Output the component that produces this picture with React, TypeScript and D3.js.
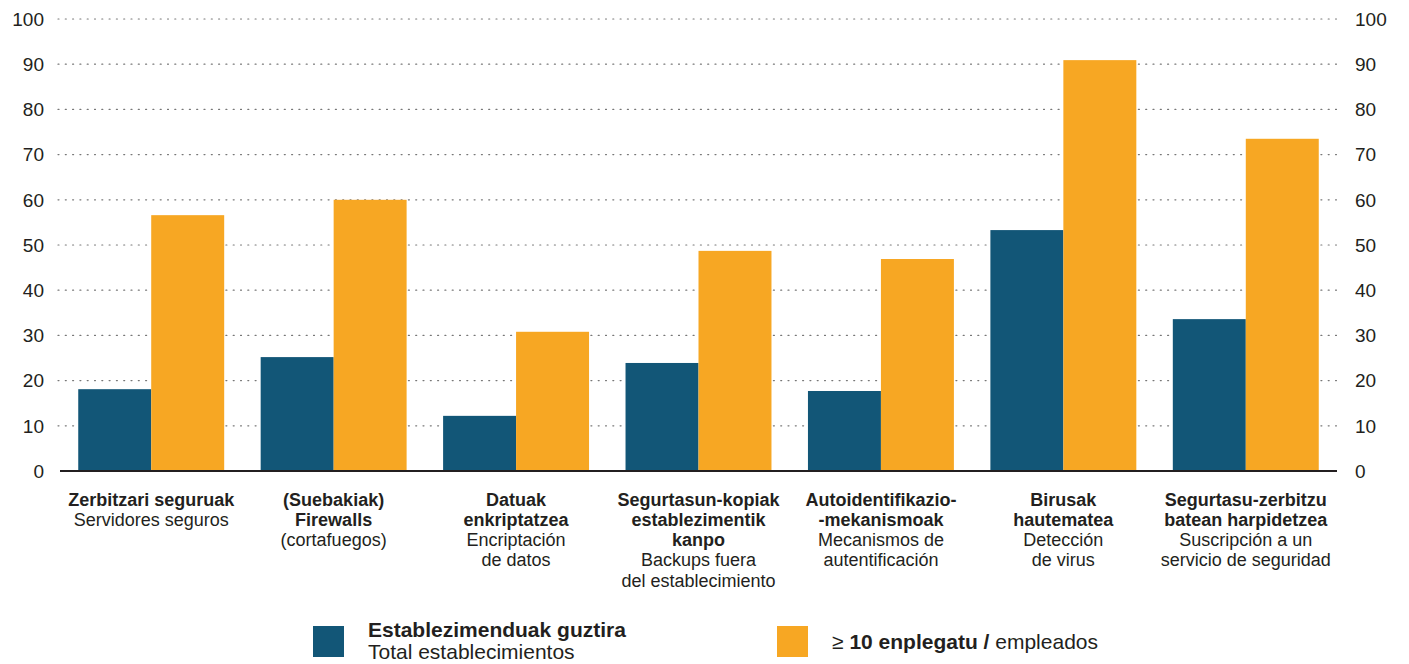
import React from "react";
import * as d3 from "d3";

const categoriesBold: string[][] = [
  ["Zerbitzari seguruak"],
  ["(Suebakiak)", "Firewalls"],
  ["Datuak", "enkriptatzea"],
  ["Segurtasun-kopiak", "establezimentik", "kanpo"],
  ["Autoidentifikazio-", "-mekanismoak"],
  ["Birusak", "hautematea"],
  ["Segurtasu-zerbitzu", "batean harpidetzea"],
];
const categoriesRegular: string[][] = [
  ["Servidores seguros"],
  ["(cortafuegos)"],
  ["Encriptación", "de datos"],
  ["Backups fuera", "del establecimiento"],
  ["Mecanismos de", "autentificación"],
  ["Detección", "de virus"],
  ["Suscripción a un", "servicio de seguridad"],
];
const totalValues = [18.1, 25.2, 12.2, 23.9, 17.7, 53.3, 33.6];
const tenPlusValues = [56.6, 60.0, 30.8, 48.7, 46.9, 90.9, 73.5];
const yTicks = [0, 10, 20, 30, 40, 50, 60, 70, 80, 90, 100];

const BLUE = "#125677";
const ORANGE = "#F7A723";

export default function App() {
  const W = 1409, H = 664;
  const left = 60, right = 1337, top = 19, bottom = 471;
  const x = d3.scaleBand<number>().domain(d3.range(7)).range([left, right]).paddingInner(0.2).paddingOuter(0.1);
  const y = d3.scaleLinear().domain([0, 100]).range([bottom, top]);
  const bw = x.bandwidth() / 2;
  const font = "'Liberation Sans', Arial, sans-serif";
  return (
    <svg width={W} height={H} style={{ position: "absolute", left: 0, top: 0, background: "#fff" }} fontFamily={font}>
      {yTicks.map((t) => (
        <g key={t}>
          {t > 0 && (
            <line x1={58} x2={1340} y1={y(t)} y2={y(t)} stroke="#777" strokeWidth={1.2} strokeDasharray="1 6.3" strokeLinecap="round" />
          )}
          <text x={44} y={y(t)} dy="0.36em" textAnchor="end" fontSize={19} fill="#231f20">{t}</text>
          <text x={1355} y={y(t)} dy="0.36em" textAnchor="start" fontSize={19} fill="#231f20">{t}</text>
        </g>
      ))}
      {totalValues.map((v, i) => (
        <rect key={"b" + i} x={x(i)!} y={y(v)} width={bw} height={y(0) - y(v)} fill={BLUE} />
      ))}
      {tenPlusValues.map((v, i) => (
        <rect key={"o" + i} x={x(i)! + bw} y={y(v)} width={bw} height={y(0) - y(v)} fill={ORANGE} />
      ))}
      <line x1={left} x2={right} y1={bottom} y2={bottom} stroke="#231f20" strokeWidth={2} />
      {categoriesBold.map((lines, i) => {
        const cx = x(i)! + x.bandwidth() / 2;
        const all = [
          ...lines.map((l) => ({ t: l, b: true })),
          ...categoriesRegular[i].map((l) => ({ t: l, b: false })),
        ];
        return (
          <text key={"c" + i} x={cx} textAnchor="middle" fontSize={18} fill="#231f20">
            {all.map((l, j) => (
              <tspan key={j} x={cx} y={505.5 + j * 20.3} fontWeight={l.b ? "bold" : "normal"} fontSize={l.b ? 18 : 18}>{l.t}</tspan>
            ))}
          </text>
        );
      })}
      <rect x={313} y={626} width={31} height={31} fill={BLUE} />
      <text x={368} y={637} fontSize={21} fontWeight="bold" fill="#231f20">Establezimenduak guztira</text>
      <text x={368} y={659} fontSize={21} fill="#231f20">Total establecimientos</text>
      <rect x={777} y={626} width={31} height={31} fill={ORANGE} />
      <text x={832} y={649} fontSize={21} fill="#231f20">
        <tspan>≥ </tspan>
        <tspan fontWeight="bold">10 enplegatu /</tspan>
        <tspan> empleados</tspan>
      </text>
    </svg>
  );
}
